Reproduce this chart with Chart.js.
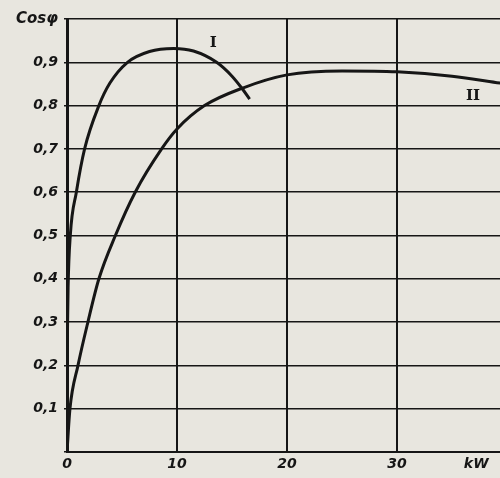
<!DOCTYPE html>
<html>
<head>
<meta charset="utf-8">
<script src="https://cdn.jsdelivr.net/npm/chart.js@4/dist/chart.umd.min.js"></script>
<style>
    html, body { margin: 0; padding: 0; background: #e8e6df; }
    #wrap { width: 500px; height: 478px; }
</style>
</head>
<body>
<div id="wrap"><canvas id="cosChart" width="500" height="478"></canvas></div>
<script>
// curve I (kW, cos phi)
const curveIx = [0, 0.1, 0.3, 0.85, 1.6, 2.9, 3.9, 5.5, 7.5, 9.7, 11.5, 13.6, 15, 15.9, 16.6];
const curveIy = [0.2, 0.38, 0.5, 0.6, 0.7, 0.8, 0.852, 0.9, 0.925, 0.932, 0.926, 0.9, 0.868, 0.84, 0.815];

// curve II
const curveIIx = [0, 0.27, 1.0, 1.9, 2.9, 4.4, 6.2, 8.6, 10, 12.5, 15.9, 20, 25, 30, 35, 39.4];
const curveIIy = [0, 0.1, 0.2, 0.3, 0.4, 0.5, 0.6, 0.7, 0.746, 0.8, 0.84, 0.871, 0.88, 0.878, 0.868, 0.852];

const xTicks = [0, 10, 20, 30, 37.2];
const xTickLabels = ['0', '10', '20', '30', 'kW'];
const yTicks = [0, 0.1, 0.2, 0.3, 0.4, 0.5, 0.6, 0.7, 0.8, 0.9, 1.0];
const yTickLabels = ['0', '0,1', '0,2', '0,3', '0,4', '0,5', '0,6', '0,7', '0,8', '0,9', 'Cosφ'];

// curve names and where they sit
const curveNames = ['I', 'II'];
const curveNameX = [13.3, 36.9];
const curveNameY = [0.945, 0.822];

const ink = '#161616';
const font = { family: 'DejaVu Sans', size: 14, style: 'italic', weight: 'bold' };

const toPoints = (xs, ys) => xs.map((x, i) => ({ x: x, y: ys[i] }));

const curveLabels = {
    id: 'curveLabels',
    afterDatasetsDraw(chart) {
        const { ctx, scales } = chart;
        ctx.save();
        ctx.fillStyle = ink;
        ctx.font = 'bold 15px "DejaVu Serif"';
        ctx.textAlign = 'center';
        ctx.textBaseline = 'middle';
        curveNames.forEach((name, i) => {
            ctx.fillText(name, scales.x.getPixelForValue(curveNameX[i]), scales.y.getPixelForValue(curveNameY[i]));
        });
        ctx.restore();
    }
};

const xMax = 39.36;

new Chart(document.getElementById('cosChart').getContext('2d'), {
    type: 'line',
    data: {
        datasets: [
            { data: toPoints(curveIx, curveIy), borderColor: ink, borderWidth: 3, pointRadius: 0, cubicInterpolationMode: 'monotone' },
            { data: toPoints(curveIIx, curveIIy), borderColor: ink, borderWidth: 3, pointRadius: 0, cubicInterpolationMode: 'monotone' }
        ]
    },
    options: {
        responsive: false,
        animation: false,
        layout: { padding: { top: 19, right: 0, left: 0, bottom: 0 } },
        plugins: { legend: { display: false }, tooltip: { enabled: false } },
        scales: {
            x: {
                type: 'linear',
                min: 0,
                max: xMax,
                afterFit(scale) { scale.height = 26; },
                afterBuildTicks(scale) { scale.ticks = xTicks.map(v => ({ value: v })); },
                grid: {
                    color: ctx => ctx.tick && ctx.tick.value > 35 ? 'rgba(0,0,0,0)' : ink,
                    lineWidth: 2,
                    drawTicks: false
                },
                border: { color: ink, width: 2 },
                ticks: {
                    color: ink,
                    font: font,
                    padding: 4,
                    maxRotation: 0,
                    autoSkip: false,
                    callback: (v, i) => xTickLabels[i]
                }
            },
            y: {
                type: 'linear',
                min: 0,
                max: 1.0,
                afterFit(scale) { scale.width = 67; },
                afterBuildTicks(scale) { scale.ticks = yTicks.map(v => ({ value: v })); },
                grid: { color: ink, lineWidth: 1.5, drawTicks: true, tickLength: 3 },
                border: { color: ink, width: 3 },
                ticks: {
                    color: ink,
                    font: ctx => ctx.index === 10 ? { ...font, size: 15 } : font,
                    padding: 6,
                    autoSkip: false,
                    callback: (v, i) => i === 0 ? '' : yTickLabels[i]
                }
            }
        }
    },
    plugins: [curveLabels]
});
</script>
</body>
</html>
